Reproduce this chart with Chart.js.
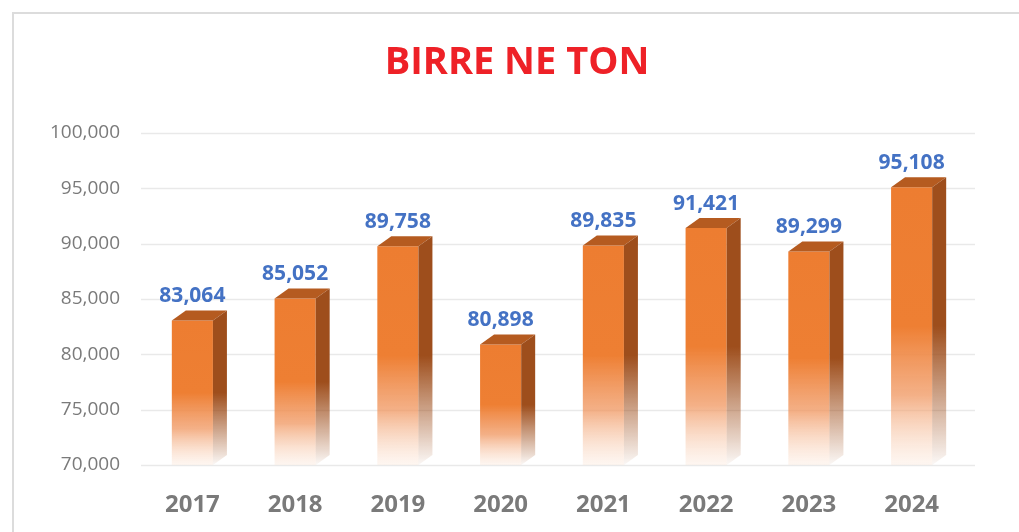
<!DOCTYPE html>
<html>
<head>
<meta charset="utf-8">
<script src="https://cdn.jsdelivr.net/npm/chart.js@4/dist/chart.umd.min.js"></script>
<style>
  html, body { margin: 0; padding: 0; background: #fff; }
  #wrap { position: relative; width: 1019px; height: 532px; overflow: hidden; }
  #frame { position: absolute; left: 12px; top: 12px; width: 1100px; height: 600px; border: 2px solid #dcdcdc; box-sizing: border-box; }
  canvas { position: absolute; left: 0; top: 0; }
</style>
</head>
<body>
<div id="wrap">
  <div id="frame"></div>
  <canvas id="myChart" width="1019" height="532"></canvas>
</div>
<script>
var years = ['2017', '2018', '2019', '2020', '2021', '2022', '2023', '2024'];
var tons = [83064, 85052, 89758, 80898, 89835, 91421, 89299, 95108];
var yTicks = [70000, 75000, 80000, 85000, 90000, 95000, 100000];

function fmt(n) {
    return n.toLocaleString('en-US');
}

var DX = 14, DY = 10;

// side + top faces so the bars look like the excel 3d columns
var boxSides = {
    id: 'boxSides',
    beforeDatasetsDraw: function(chart) {
        // gridlines, running a bit past the plot like the back wall
        var ctx = chart.ctx, area = chart.chartArea, y = chart.scales.y;
        ctx.save();
        ctx.strokeStyle = '#e9e9e9';
        ctx.lineWidth = 1.5;
        yTicks.forEach(function(v) {
            var py = Math.round(y.getPixelForValue(v)) + 0.5;
            ctx.beginPath();
            ctx.moveTo(area.left, py);
            ctx.lineTo(area.right + 12, py);
            ctx.stroke();
        });
        ctx.restore();
    },
    afterDatasetsDraw: function(chart) {
        var ctx = chart.ctx;
        var bottom = chart.chartArea.bottom;
        chart.getDatasetMeta(0).data.forEach(function(bar, i) {
            var left = bar.x - bar.width / 2;
            var right = bar.x + bar.width / 2;
            var top = bar.y;

            ctx.save();
            ctx.beginPath();
            ctx.moveTo(left, top);
            ctx.lineTo(left + DX, top - DY);
            ctx.lineTo(right + DX, top - DY);
            ctx.lineTo(right, top);
            ctx.closePath();
            ctx.fillStyle = '#b55b20';
            ctx.fill();

            var g = ctx.createLinearGradient(0, top, 0, bottom);
            g.addColorStop(0, '#9e4e1c');
            g.addColorStop(0.5, '#9e4e1c');
            g.addColorStop(1, 'rgba(158,78,28,0.04)');
            ctx.beginPath();
            ctx.moveTo(right, top);
            ctx.lineTo(right + DX, top - DY);
            ctx.lineTo(right + DX, bottom - DY);
            ctx.lineTo(right, bottom);
            ctx.closePath();
            ctx.fillStyle = g;
            ctx.fill();

            ctx.fillStyle = '#4472c4';
            ctx.font = 'bold 21px "Open Sans"';
            ctx.textAlign = 'center';
            ctx.textBaseline = 'alphabetic';
            ctx.fillText(fmt(tons[i]), bar.x, top - 18);
            ctx.restore();
        });
    }
};

function frontFill(context) {
    var chart = context.chart;
    var area = chart.chartArea;
    if (!area) return '#ed7d31';
    var y = chart.scales.y.getPixelForValue(tons[context.dataIndex]);
    var g = chart.ctx.createLinearGradient(0, y, 0, area.bottom);
    g.addColorStop(0, '#ed7d31');
    g.addColorStop(0.5, '#ee7f33');
    g.addColorStop(0.75, 'rgba(240,150,95,0.75)');
    g.addColorStop(1, 'rgba(250,220,200,0.25)');
    return g;
}

var ctx = document.getElementById('myChart').getContext('2d');
var myChart = new Chart(ctx, {
    type: 'bar',
    data: {
        labels: years,
        datasets: [{
            data: tons,
            backgroundColor: frontFill,
            borderWidth: 0,
            categoryPercentage: 0.8,
            barPercentage: 0.5
        }]
    },
    plugins: [boxSides],
    options: {
        responsive: false,
        animation: false,
        layout: { padding: { top: 0, left: 15, right: 0, bottom: 0 } },
        plugins: {
            legend: { display: false },
            tooltip: { enabled: false },
            title: {
                display: true,
                text: 'BIRRE NE TON',
                color: '#ee2127',
                font: { family: 'Open Sans', size: 38, weight: 'bold', lineHeight: 1.2 },
                padding: { top: 40, bottom: 47.4 }
            }
        },
        scales: {
            x: {
                afterFit: function(scale) { scale.height = 67; },
                grid: { display: false, drawTicks: false },
                border: { display: false },
                ticks: {
                    color: '#7a7a7a',
                    font: { family: 'Open Sans', size: 24, weight: 'bold', lineHeight: 1.2 },
                    padding: 26
                }
            },
            y: {
                min: 70000,
                max: 100000,
                afterFit: function(scale) { scale.width = 126; },
                afterBuildTicks: function(scale) {
                    scale.ticks = yTicks.map(function(v) { return { value: v }; });
                },
                grid: { display: false, drawTicks: false },
                border: { display: false },
                ticks: {
                    color: '#7a7a7a',
                    font: { family: 'Open Sans', size: 19 },
                    padding: 21,
                    callback: function(v) { return fmt(v); }
                }
            },
            // empty room on the right for the box depth
            yRight: {
                position: 'right',
                min: 70000,
                max: 100000,
                afterFit: function(scale) { scale.width = 56; },
                grid: { display: false, drawTicks: false },
                border: { display: false },
                ticks: { display: false }
            }
        }
    }
});
</script>
</body>
</html>
